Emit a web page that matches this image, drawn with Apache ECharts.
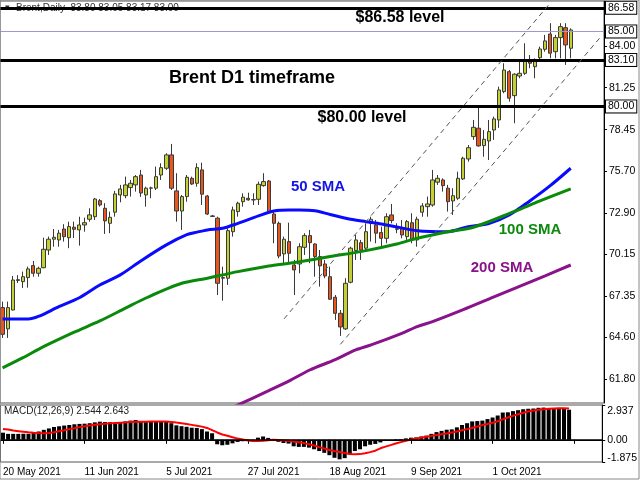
<!DOCTYPE html>
<html>
<head>
<meta charset="utf-8">
<script src="https://cdn.jsdelivr.net/npm/echarts@6/dist/echarts.min.js"></script>
<style>
html,body{margin:0;padding:0;background:#fff;}
#chart{width:640px;height:480px;}
</style>
</head>
<body>
<div id="chart"></div>
<script>
// ---------- DATA ----------
const dateLabels = ['20 May 2021','11 Jun 2021','5 Jul 2021','27 Jul 2021','18 Aug 2021','9 Sep 2021','1 Oct 2021'];
const labelStep = 16;           // bars between date labels
const slotCount = 118;          // bar slots on the time axis (incl. right shift)

const opens = [66.59,65.17,66.43,68.40,68.32,68.59,69.39,68.88,69.25,70.43,
71.15,71.10,71.83,71.25,71.95,71.77,72.10,72.48,72.65,73.72,
73.21,72.21,72.95,74.10,74.05,74.59,74.77,75.43,74.10,74.55,
74.55,75.43,75.88,76.77,74.37,73.03,73.99,75.21,74.88,75.77,
74.03,72.70,72.55,68.55,68.55,71.65,72.99,73.65,73.88,73.77,
73.81,74.72,75.03,72.83,72.21,70.17,70.99,69.43,69.50,70.61,
71.39,70.83,69.99,69.50,68.65,67.28,66.21,65.17,68.28,70.39,
70.92,70.55,72.21,72.10,71.59,71.21,72.77,71.85,71.88,71.32,
72.25,71.10,72.95,73.32,73.43,74.95,75.10,74.55,73.70,73.88,
75.17,76.50,77.99,78.55,77.39,77.70,78.43,79.10,80.99,82.32,
80.72,82.03,82.21,83.10,82.65,83.25,83.81,84.83,83.65,84.59,
85.25,83.88];
const closes = [64.81,66.59,68.43,68.45,68.65,69.17,68.88,69.21,70.48,71.15,
71.28,71.55,71.32,71.99,71.81,72.10,72.25,72.77,73.83,73.43,
72.37,72.61,74.17,74.50,74.77,74.88,75.32,74.23,74.55,74.57,
75.32,75.92,76.77,74.55,73.03,73.99,75.28,74.83,75.92,74.15,
72.83,72.67,68.21,68.59,71.72,73.10,73.55,73.95,73.77,73.79,
74.81,74.99,72.99,72.21,70.03,71.15,70.21,69.10,70.65,71.39,
70.92,69.99,69.37,68.70,67.15,66.21,65.30,68.21,70.55,71.10,
70.43,71.65,72.48,71.55,71.21,72.65,72.39,71.81,71.43,72.32,
71.10,72.48,73.37,73.50,75.10,75.21,74.72,73.65,74.05,75.21,
76.55,77.25,78.61,77.37,77.81,78.32,79.17,81.10,82.43,80.55,
82.15,82.21,83.10,82.88,83.03,83.83,84.37,83.55,84.59,85.32,
84.10,85.10];
const highs = [66.99,66.99,68.70,68.75,68.99,69.32,69.70,69.32,71.25,71.32,
71.83,71.77,72.15,72.32,72.32,72.65,72.59,73.21,73.90,73.83,
73.55,72.99,74.37,74.77,75.32,75.10,75.43,75.77,74.65,74.65,
75.99,76.21,76.88,77.50,75.55,74.10,75.43,75.32,76.21,76.25,
74.10,72.77,72.65,69.32,71.88,73.32,73.65,74.21,74.25,74.21,
74.99,75.55,75.10,72.99,72.32,71.32,72.25,69.77,70.88,71.55,
71.77,70.88,70.43,69.77,69.32,67.43,66.43,68.55,70.65,71.43,
71.10,72.21,72.65,72.43,71.99,72.88,73.50,72.21,72.43,72.43,
72.88,72.65,73.55,73.99,75.77,75.43,75.21,74.77,74.55,75.65,
76.65,77.43,79.10,79.99,78.43,79.10,79.32,81.32,82.88,82.43,
82.21,83.10,84.21,83.43,83.21,83.99,84.77,85.55,84.77,85.55,
85.55,85.21];
const lows = [64.57,64.57,66.40,68.23,67.90,67.92,68.65,68.65,69.21,70.10,
70.65,70.65,70.99,70.55,71.23,70.72,71.65,72.32,72.43,73.32,
71.50,71.55,72.65,73.61,73.88,73.99,74.32,73.97,73.32,73.88,
74.43,75.10,75.77,74.43,72.32,71.77,73.65,74.77,74.65,73.43,
72.77,72.63,67.43,67.05,68.10,71.32,72.65,73.32,73.72,73.43,
73.43,74.65,72.88,70.88,69.88,69.55,69.55,67.43,68.88,70.10,
69.55,68.65,67.99,68.55,67.10,65.77,64.70,65.10,68.21,69.77,
69.77,70.43,70.99,70.88,70.65,70.88,72.21,71.55,71.21,71.10,
70.88,70.65,72.65,72.65,73.32,74.77,74.32,72.99,72.77,73.77,
75.10,76.32,77.77,77.32,76.65,76.43,77.77,78.57,80.88,80.32,
78.88,81.88,82.10,82.55,81.88,83.10,83.65,83.21,83.21,83.21,
82.77,83.21];

// moving averages: [bar index, value]
const sma50 = [[0,65.83],[5,65.83],[7,66.00],[11,66.65],[15,67.25],[19,68.10],[23,68.77],[27,69.70],[32,70.77],[36,71.45],[38,71.62],[40,71.77],[43,71.88],[46,72.21],[50,72.70],[53,73.03],[56,73.10],[58,73.10],[61,73.05],[64,72.80],[68,72.48],[71,72.32],[74,72.17],[77,71.97],[81,71.72],[87,71.65],[91,71.99],[95,72.20],[99,72.77],[103,73.70],[107,74.72],[111,75.88]];
const sma100 = [[0,62.57],[4,63.25],[7,63.81],[9,64.15],[14,64.95],[19,65.70],[24,66.55],[28,67.23],[35,68.21],[40,68.55],[43,68.77],[46,68.99],[52,69.37],[56,69.55],[58,69.65],[64,69.99],[71,70.39],[77,70.83],[81,71.21],[87,71.65],[92,71.95],[100,73.00],[105,73.70],[111,74.50]];
const sma200 = [[44,59.80],[46,60.10],[52,61.05],[56,61.70],[60,62.43],[65,63.12],[69,63.77],[72,64.10],[78,64.87],[81,65.32],[84,65.65],[90,66.45],[96,67.30],[101,68.00],[106,68.70],[111,69.43]];

// MACD(12,26,9): main (histogram) and signal
const macdMain = [0.60,0.50,0.50,0.50,0.51,0.51,0.58,0.70,0.84,0.96,
1.08,1.14,1.20,1.25,1.31,1.34,1.36,1.40,1.47,1.53,
1.50,1.48,1.47,1.50,1.55,1.62,1.67,1.58,1.55,1.55,
1.55,1.55,1.50,1.40,1.22,1.15,1.10,1.02,1.00,0.90,
0.70,0.55,-0.38,-0.46,-0.42,-0.30,-0.18,-0.12,-0.10,0.02,
0.18,0.28,0.16,0.02,-0.17,-0.27,-0.32,-0.55,-0.60,-0.60,
-0.66,-0.80,-0.95,-1.10,-1.30,-1.52,-1.65,-1.55,-1.25,-0.95,
-0.80,-0.55,-0.42,-0.35,-0.22,-0.10,-0.02,0.05,0.06,0.12,
0.18,0.20,0.28,0.35,0.50,0.65,0.75,0.85,0.88,1.05,
1.25,1.40,1.55,1.58,1.62,1.75,1.88,2.05,2.30,2.32,
2.42,2.50,2.58,2.62,2.64,2.70,2.72,2.68,2.66,2.64,
2.60,2.54];
const macdSignal = [0.92,0.86,0.78,0.73,0.68,0.63,0.59,0.57,0.56,0.58,
0.64,0.72,0.80,0.90,0.98,1.07,1.14,1.20,1.26,1.32,
1.36,1.39,1.41,1.44,1.47,1.50,1.52,1.53,1.53,1.54,
1.54,1.55,1.55,1.51,1.45,1.40,1.33,1.26,1.19,1.11,
1.00,0.82,0.62,0.45,0.34,0.22,0.10,0.02,-0.06,-0.10,
-0.10,-0.08,-0.03,0.00,-0.02,-0.05,-0.09,-0.15,-0.20,-0.28,
-0.38,-0.48,-0.62,-0.74,-0.86,-0.95,-1.03,-1.12,-1.20,-1.22,
-1.21,-1.14,-1.04,-0.92,-0.72,-0.58,-0.45,-0.32,-0.20,-0.08,
0.02,0.10,0.18,0.26,0.33,0.40,0.47,0.54,0.62,0.70,
0.80,0.90,1.00,1.12,1.24,1.33,1.44,1.57,1.72,1.88,
2.02,2.15,2.28,2.38,2.47,2.54,2.58,2.62,2.65,2.66,
2.66,2.64];

const priceTicks = [61.80,64.60,67.35,70.15,72.90,75.70,78.45,81.25,84.00];
const levelValues = [86.58,83.10,80.00];
const bidValue = 85.00;
const macdTicks = [-1.875,0,2.937];
const priceRange = [60.23,87.03];
const macdRange = [-1.875,2.937];
const channelUpper = [[55,65.84],[107,86.90]];
const channelLower = [[66,64.14],[117,84.70]];

// ---------- CHART ----------
const FONT = 'Liberation Sans';
const slots = Array.from({length: slotCount}, (_, i) => i);
const candles = opens.map((o, i) => [o, closes[i], lows[i], highs[i]]);

const boxLabel = (txt) => ({
  show: true, position: 'end', distance: 2, formatter: txt,
  color: '#000', fontSize: 10.5, fontFamily: FONT,
  backgroundColor: '#fff', borderColor: '#000', borderWidth: 1, padding: [1, 2, 0, 2]
});

const markData = levelValues.map(v => ({
  yAxis: v,
  lineStyle: {color: '#000', width: 3, type: 'solid'},
  label: boxLabel(v.toFixed(2))
}));
markData.push({
  yAxis: bidValue,
  lineStyle: {color: '#9a9ad0', width: 1.2, type: 'solid'},
  label: boxLabel(bidValue.toFixed(2))
});
const chanStyle = {color: '#555', width: 1, type: [5, 4]};
markData.push([{coord: channelUpper[0], lineStyle: chanStyle, label: {show: false}}, {coord: channelUpper[1]}]);
markData.push([{coord: channelLower[0], lineStyle: chanStyle, label: {show: false}}, {coord: channelLower[1]}]);

const txt = (x, y, text, size, color, weight) => ({
  type: 'text', x: x, y: y, z: 100,
  style: {text: text, fill: color, font: (weight || 'bold') + ' ' + size + 'px "' + FONT + '"', textAlign: 'center', textVerticalAlign: 'middle'}
});

const chart = echarts.init(document.getElementById('chart'), null, {renderer: 'canvas'});
chart.setOption({
  animation: false,
  backgroundColor: '#fff',
  grid: [
    {left: 0, top: 1, width: 604, height: 402, show: true, borderColor: '#555', borderWidth: 1, backgroundColor: 'transparent'},
    {left: 0, top: 405, width: 604, height: 57, show: true, borderColor: '#555', borderWidth: 1, backgroundColor: 'transparent'}
  ],
  xAxis: [
    {type: 'category', gridIndex: 0, data: slots, boundaryGap: true,
     axisLine: {show: false}, axisTick: {show: false}, axisLabel: {show: false}, splitLine: {show: false}},
    {type: 'category', gridIndex: 1, data: slots, boundaryGap: true,
     axisLine: {show: true, lineStyle: {color: '#000'}},
     axisTick: {show: true, alignWithLabel: true, length: 4, lineStyle: {color: '#000'}, interval: (i) => i % labelStep === 0},
     axisLabel: {show: true, interval: (i) => i % labelStep === 0, align: 'left', margin: 5,
       color: '#000', fontSize: 10, fontFamily: FONT,
       formatter: (v, i) => (i % labelStep === 0 && dateLabels[i / labelStep]) ? dateLabels[i / labelStep] : ''},
     splitLine: {show: false}}
  ],
  yAxis: [
    {type: 'value', gridIndex: 0, position: 'right', min: priceRange[0], max: priceRange[1], scale: true,
     axisLine: {show: true, lineStyle: {color: '#000'}},
     axisTick: {show: true, length: 3, customValues: priceTicks, lineStyle: {color: '#000'}},
     axisLabel: {show: true, customValues: priceTicks, margin: 5, color: '#000', fontSize: 10.5, fontFamily: FONT,
       formatter: (v) => v.toFixed(2)},
     splitLine: {show: false}},
    {type: 'value', gridIndex: 1, position: 'right', min: macdRange[0], max: macdRange[1],
     axisLine: {show: true, lineStyle: {color: '#000'}},
     axisTick: {show: true, length: 3, customValues: macdTicks, lineStyle: {color: '#000'}},
     axisLabel: {show: true, customValues: macdTicks, margin: 5,
       formatter: (v) => v === 0 ? '{z|0.00}' : (v > 0 ? '{t|' + v.toFixed(3) + '}' : '{b|' + v.toFixed(3) + '}'),
       rich: {
         t: {fontSize: 10.5, fontFamily: FONT, color: '#000', padding: [12, 0, 0, 0]},
         b: {fontSize: 10.5, fontFamily: FONT, color: '#000', padding: [0, 0, 8, 0]},
         z: {fontSize: 10.5, fontFamily: FONT, color: '#000'}
       }},
     splitLine: {show: false}}
  ],
  series: [
    {type: 'candlestick', xAxisIndex: 0, yAxisIndex: 0, data: candles, barWidth: 3.8, clip: false,
     itemStyle: {color: '#c4d031', color0: '#e8561e', borderColor: '#3a3a3a', borderColor0: '#3a3a3a', borderWidth: 1},
     markLine: {silent: true, symbol: ['none', 'none'], animation: false, data: markData}},
    {type: 'line', xAxisIndex: 0, yAxisIndex: 0, data: sma50, showSymbol: false, smooth: 0.3,
     lineStyle: {color: '#0a0aff', width: 3}, z: 3},
    {type: 'line', xAxisIndex: 0, yAxisIndex: 0, data: sma100, showSymbol: false, smooth: 0.3,
     lineStyle: {color: '#0a8a0a', width: 3}, z: 3},
    {type: 'line', xAxisIndex: 0, yAxisIndex: 0, data: sma200, showSymbol: false, smooth: 0.3,
     lineStyle: {color: '#8a128a', width: 3}, z: 3},
    {type: 'bar', xAxisIndex: 1, yAxisIndex: 1, data: macdMain, barWidth: 4,
     itemStyle: {color: '#000'},
     markLine: {silent: true, symbol: ['none', 'none'], label: {show: false},
       data: [{yAxis: 0, lineStyle: {color: '#000', width: 1.5, type: 'solid'}}]}},
    {type: 'line', xAxisIndex: 1, yAxisIndex: 1, data: macdSignal, showSymbol: false,
     lineStyle: {color: '#ff0000', width: 2}, z: 4}
  ],
  graphic: [
    {type: 'text', x: 5, y: 8, z: 0, style: {text: '\u25BE', fill: '#333', font: '9px "' + FONT + '"', textVerticalAlign: 'middle'}},
    {type: 'text', x: 16, y: 8, z: 0, style: {text: 'Brent,Daily  83.80 83.05 83.17 83.00', fill: '#333', font: '10px "' + FONT + '"', textVerticalAlign: 'middle'}},
    {type: 'text', x: 4, y: 411, z: 100, style: {text: 'MACD(12,26,9) 2.544 2.643', fill: '#222', font: '10px "' + FONT + '"', textVerticalAlign: 'middle'}},
    txt(400, 18, '$86.58 level', 16, '#000'),
    txt(252, 78, 'Brent D1 timeframe', 18, '#000'),
    txt(362, 118, '$80.00 level', 16, '#000'),
    txt(318, 187, '50 SMA', 15, '#1414e6'),
    txt(530, 230, '100 SMA', 15, '#0d8a0d'),
    txt(502, 268, '200 SMA', 15, '#8a128a'),
    {type: 'rect', shape: {x: 0, y: 0, width: 639, height: 479}, style: {fill: 'none', stroke: '#888', lineWidth: 1}, z: 100, silent: true}
  ]
});
</script>
</body>
</html>
